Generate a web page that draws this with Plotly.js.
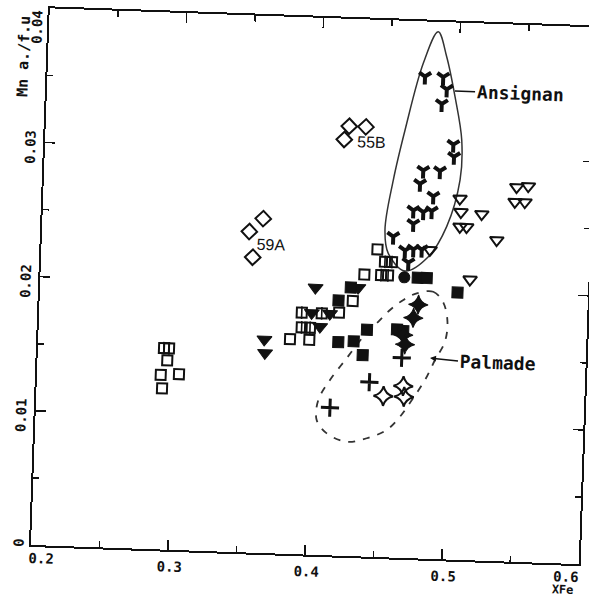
<!DOCTYPE html>
<html><head><meta charset="utf-8">
<script src="https://cdn.plot.ly/plotly-3.0.1.min.js"></script>
<style>
html,body{margin:0;padding:0;width:589px;height:598px;overflow:hidden;background:#fff;}
#chart{position:absolute;left:-40px;top:-40px;width:660px;height:680px;transform-origin:71px 585px;transform:rotate(2deg);}
</style></head><body><div id="chart"></div>
<script>
// Ansignan group (Y-shaped symbols)
var ansX = [0.4755,0.4888,0.4917,0.4884,0.4979,0.4987,0.4766,0.4888,0.4746,0.4846,0.4704,0.4777,0.4838,0.4707,0.4564,0.4653,0.4714,0.4775,0.4681];
var ansY = [0.0359,0.0359,0.0350,0.0339,0.0309,0.0300,0.0289,0.0289,0.0279,0.0270,0.0259,0.0258,0.0259,0.0249,0.0239,0.0229,0.0230,0.0230,0.0220];
// open down triangles
var openTriX = [0.5041,0.5052,0.5204,0.5048,0.5097,0.5320,0.5135,0.5452,0.5537,0.5443,0.5516,0.4836];
var openTriY = [0.0269,0.0259,0.0258,0.0248,0.0248,0.0239,0.0209,0.0279,0.0280,0.0268,0.0268,0.0230];
// filled down triangles
var fillTriX = [0.3650,0.3658,0.4010,0.4322,0.3989,0.4122,0.4053];
var fillTriY = [0.0159,0.0149,0.0199,0.0200,0.0180,0.0180,0.0170];
// filled squares
var fillSqX = [0.4753,0.4819,0.5047,0.4267,0.4181,0.4190,0.4302,0.4396,0.4371,0.4615,0.4661];
var fillSqY = [0.0209,0.0209,0.0199,0.0200,0.0190,0.0159,0.0160,0.0169,0.0150,0.0170,0.0169];
// open squares
var openSqX = [0.2947,0.2903,0.3036,0.2916,0.4452,0.4363,0.4285,0.4188,0.3837,0.3978];
var openSqY = [0.0141,0.0130,0.0131,0.0120,0.0229,0.0210,0.0190,0.0181,0.0160,0.0160];
// hatched squares
var hatchSqX = [0.2920,0.2957,0.4510,0.4561,0.4485,0.4536,0.3916,0.4062,0.3919,0.3980];
var hatchSqY = [0.0150,0.0150,0.0220,0.0220,0.0210,0.0210,0.0180,0.0180,0.0169,0.0169];
// open diamonds (55B, 59A)
var diamX = [0.4215,0.4337,0.4182,0.3611,0.3513,0.3544];
var diamY = [0.0320,0.0320,0.0310,0.0249,0.0239,0.0220];
// filled circle
var circX = [0.4655];
var circY = [0.0209];
// Palmade group
var starFX = [0.4764,0.4731,0.4662,0.4677];
var starFY = [0.0189,0.0179,0.0166,0.0159];
var crossX = [0.4657,0.4427,0.4146];
var crossY = [0.0149,0.0130,0.0110];
var starOX = [0.4532,0.4675,0.4683];
var starOY = [0.0120,0.0128,0.0120];
// outlines
var ansOutX = [0.4840,0.4908,0.4979,0.5039,0.5037,0.4951,0.4825,0.4658,0.4532,0.4502,0.4550,0.4623,0.4739,0.4840];
var ansOutY = [0.03927,0.03743,0.03448,0.03127,0.02829,0.02478,0.02249,0.02137,0.02264,0.02437,0.02811,0.03187,0.03688,0.03927];
var palOutX = [0.4750,0.4870,0.4946,0.4981,0.4968,0.4900,0.4832,0.4751,0.4659,0.4565,0.4422,0.4277,0.4129,0.4052,0.4059,0.4139,0.4255,0.4371,0.4465,0.4559,0.4654,0.4750];
var palOutY = [0.01974,0.01990,0.01912,0.01772,0.01623,0.01482,0.01331,0.01194,0.01051,0.00949,0.00882,0.00851,0.00908,0.01005,0.01154,0.01306,0.01472,0.01637,0.01740,0.01843,0.01921,0.01974];
// ticks
var xTickVals = [0.3,0.4,0.5];
var xTickText = ['0.3','0.4','0.5'];
var xMinor = [0.25,0.35,0.45,0.55];
var yTickVals = [0.01,0.02,0.03];
var yTickText = ['0.01','0.02','0.03'];
var yMinor = [0.005,0.015,0.025,0.035];

var K = '#111';
var MONO = 'DejaVu Sans Mono';
function mk(x,y,sym,size,lw){
  return {type:'scatter',mode:'markers',x:x,y:y,
    marker:{symbol:sym,size:size,color:K,line:{color:K,width:lw}},hoverinfo:'skip'};
}
var traces = [
  {type:'scatter',mode:'lines',x:ansOutX,y:ansOutY,line:{shape:'spline',smoothing:1,color:'#333',width:1.5},hoverinfo:'skip'},
  {type:'scatter',mode:'lines',x:palOutX,y:palOutY,line:{shape:'spline',smoothing:1,color:'#333',width:1.8,dash:'7px,8px'},hoverinfo:'skip'},
  mk(ansX,ansY,'y-down',10,4),
  mk(openTriX,openTriY,'triangle-down-open',12,2),
  mk(fillTriX,fillTriY,'triangle-down',13,1),
  mk(fillSqX,fillSqY,'square',11,1),
  mk(openSqX,openSqY,'square-open',10,2),
  mk(hatchSqX,hatchSqY,'square-open',10,2),
  mk(hatchSqX,hatchSqY,'line-ns-open',9,1.6),
  mk(diamX,diamY,'diamond-open',12,2),
  mk(circX,circY,'circle',11,1),
  mk(starFX,starFY,'star-diamond',14,1),
  mk(crossX,crossY,'cross-thin-open',13,3),
  mk(starOX,starOY,'star-diamond-open',14,2)
];
var tickFont = {family:MONO,size:14,color:K,weight:'bold'};
var ann = [
  {x:0.4977,y:0.0349,ax:0.5124,ay:0.0349,xref:'x',yref:'y',axref:'x',ayref:'y',text:'Ansignan',showarrow:true,arrowhead:0,arrowwidth:1.5,arrowcolor:K,xanchor:'left',yanchor:'middle',font:{family:MONO,size:18,color:K,weight:'bold'}},
  {x:0.4863,y:0.01496,ax:0.5068,ay:0.01481,xref:'x',yref:'y',axref:'x',ayref:'y',text:'Palmade',showarrow:true,arrowhead:2,arrowsize:0.8,arrowwidth:1.5,arrowcolor:K,xanchor:'left',yanchor:'middle',font:{family:MONO,size:18,color:K,weight:'bold'}},
  {x:0.4383,y:0.03089,xref:'x',yref:'y',text:'55B',showarrow:false,font:{family:'Liberation Sans',size:16,color:K}},
  {x:0.3678,y:0.02296,xref:'x',yref:'y',text:'59A',showarrow:false,font:{family:'Liberation Sans',size:16,color:K}},
  {x:0.019,y:-0.0235,xref:'paper',yref:'paper',text:'0.2',showarrow:false,xanchor:'center',yanchor:'middle',font:tickFont},
  {x:0.9777,y:-0.0248,xref:'paper',yref:'paper',text:'0.6',showarrow:false,xanchor:'center',yanchor:'middle',font:tickFont},
  {x:0.9732,y:-0.0492,xref:'paper',yref:'paper',text:'XFe',showarrow:false,xanchor:'center',yanchor:'middle',font:{family:MONO,size:12,color:K,weight:'bold'}},
  {x:-0.0221,y:0.003,xref:'paper',yref:'paper',text:'0',showarrow:false,textangle:-90,xanchor:'center',yanchor:'middle',font:tickFont},
  {x:-0.0219,y:0.9646,xref:'paper',yref:'paper',text:'0.04',showarrow:false,textangle:-90,xanchor:'center',yanchor:'middle',font:tickFont},
  {x:-0.0438,y:0.9097,xref:'paper',yref:'paper',text:'Mn a./f.u',showarrow:false,textangle:-90,xanchor:'center',yanchor:'middle',font:{family:MONO,size:15,color:K,weight:'bold'}}
];
var layout = {
  width:660,height:680,margin:{l:71,r:41,t:48,b:95,pad:0},
  paper_bgcolor:'#fff',plot_bgcolor:'#fff',showlegend:false,
  xaxis:{range:[0.2,0.6],showgrid:false,zeroline:false,showline:true,linecolor:K,linewidth:2,mirror:'ticks',
    ticks:'inside',ticklen:10,tickwidth:1.5,tickcolor:K,tickvals:xTickVals,ticktext:xTickText,tickfont:tickFont,
    ticklabelstandoff:3,ticklabelshift:2,
    minor:{tickvals:xMinor,ticks:'inside',ticklen:6,tickwidth:1.5,tickcolor:K}},
  yaxis:{range:[0,0.04],showgrid:false,zeroline:false,showline:true,linecolor:K,linewidth:2,mirror:'ticks',
    ticks:'inside',ticklen:10,tickwidth:1.5,tickcolor:K,tickvals:yTickVals,ticktext:yTickText,tickfont:tickFont,tickangle:-90,
    ticklabelstandoff:2,ticklabelshift:7,
    minor:{tickvals:yMinor,ticks:'inside',ticklen:6,tickwidth:1.5,tickcolor:K}},
  annotations:ann
};
Plotly.newPlot('chart',traces,layout,{staticPlot:true,displayModeBar:false});
</script></body></html>
